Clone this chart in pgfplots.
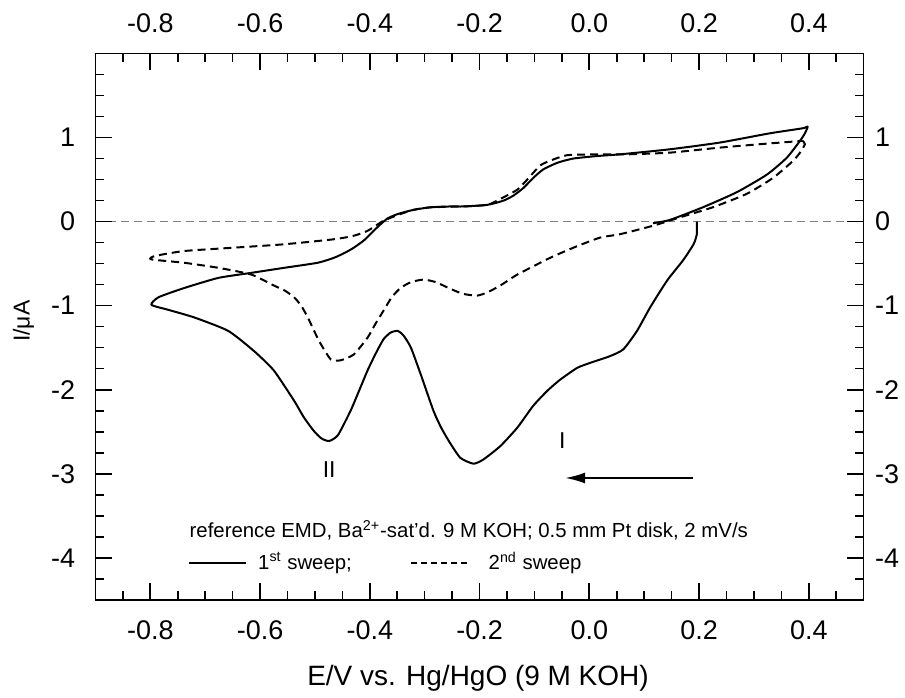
\documentclass[border=0pt]{standalone}
\usepackage{fontspec}
\setmainfont{Liberation Sans}
\usepackage{pgfplots}
\pgfplotsset{compat=1.18}
\usetikzlibrary{arrows.meta}
\pgfplotsset{
  cvbase/.style={
    scale only axis, width=384.5pt, height=273.5pt,
    xmin=-0.9, xmax=0.5, ymin=-4.5, ymax=2,
    xtick={-0.8,-0.6,-0.4,-0.2,0,0.2,0.4},
    ytick={-4,-3,-2,-1,0,1},
    minor xtick={-0.85,-0.75,-0.7,-0.65,-0.55,-0.5,-0.45,-0.35,-0.3,-0.25,-0.15,-0.1,-0.05,0.05,0.1,0.15,0.25,0.3,0.35,0.45},
    minor ytick={-4.25,-3.75,-3.5,-3.25,-2.75,-2.5,-2.25,-1.75,-1.5,-1.25,-0.75,-0.5,-0.25,0.25,0.5,0.75,1.25,1.5,1.75},
    major tick length=8.5pt, minor tick length=4.5pt,
    tick style={black, line width=0.8pt},
    axis line style={line width=0.8pt},
    tick align=inside,
    /pgf/number format/assume math mode=true,
    ticklabel style={font=\fontsize{13.5}{16}\selectfont},
    x tick label style={/pgf/number format/fixed, /pgf/number format/fixed zerofill, /pgf/number format/precision=1},
    y tick label style={/pgf/number format/fixed, /pgf/number format/precision=0},
  }
}
\begin{document}
\begin{tikzpicture}
\begin{axis}[cvbase,
  x tick label style={inner ysep=3pt, yshift=-7pt},
  y tick label style={inner xsep=3pt, xshift=-7pt},
  xlabel={E/V vs. Hg/HgO (9 M KOH)},
  ylabel={I/μA},
  xlabel style={font=\fontsize{14}{16}\selectfont, at={(axis description cs:0.498,-0.1426)}, anchor=center},
  ylabel style={font=\fontsize{11.5}{13}\selectfont, at={(axis description cs:-0.0936,0.51)}, anchor=center, inner ysep=6.5pt},
]
% zero line
\addplot[gray, line width=0.5pt, dash pattern=on 4pt off 2.5pt] coordinates {(-0.9,0) (0.5,0)};
% 1st sweep
\addplot[black, line width=1pt, smooth, tension=0.35, line join=round] coordinates {
(0.196,0) (0.196,-0.15) (0.19,-0.27) (0.171,-0.46) (0.142,-0.70) (0.111,-1.02) (0.087,-1.30)
(0.062,-1.52) (0.038,-1.60) (0.002,-1.68) (-0.022,-1.74) (-0.053,-1.88) (-0.076,-2.01)
(-0.102,-2.19) (-0.131,-2.45) (-0.162,-2.67) (-0.193,-2.83) (-0.211,-2.88) (-0.235,-2.81)
(-0.255,-2.62) (-0.27,-2.45) (-0.284,-2.25) (-0.307,-1.82) (-0.325,-1.50) (-0.338,-1.36)
(-0.349,-1.30) (-0.362,-1.32) (-0.375,-1.40) (-0.39,-1.58) (-0.404,-1.77) (-0.42,-2.02)
(-0.435,-2.25) (-0.458,-2.54) (-0.474,-2.61) (-0.488,-2.58) (-0.502,-2.49) (-0.52,-2.33)
(-0.538,-2.13) (-0.575,-1.77) (-0.611,-1.54) (-0.658,-1.30) (-0.72,-1.14) (-0.767,-1.05)
(-0.798,-0.99) (-0.785,-0.90) (-0.738,-0.79) (-0.676,-0.67) (-0.616,-0.61) (-0.556,-0.55)
(-0.495,-0.49) (-0.465,-0.43) (-0.445,-0.37) (-0.429,-0.31) (-0.41,-0.22) (-0.393,-0.11)
(-0.38,-0.03) (-0.367,0.04) (-0.349,0.09) (-0.32,0.14) (-0.289,0.17) (-0.253,0.18)
(-0.229,0.18) (-0.185,0.2) (-0.156,0.25) (-0.138,0.31) (-0.12,0.40) (-0.102,0.52)
(-0.084,0.62) (-0.058,0.70) (-0.029,0.75) (0.015,0.78) (0.056,0.80) (0.147,0.86)
(0.238,0.94) (0.329,1.05) (0.389,1.11) (0.398,1.13) (0.393,1.05) (0.384,0.96) (0.36,0.76)
(0.324,0.56) (0.269,0.35) (0.207,0.17) (0.147,0.02) (0.116,-0.02)
};
% 2nd sweep
\addplot[black, line width=1pt, smooth, tension=0.35, dash pattern=on 4pt off 2.5pt] coordinates {
(0.389,0.96) (0.393,0.92) (0.384,0.82) (0.371,0.72) (0.335,0.52) (0.287,0.33) (0.225,0.17)
(0.165,0.05) (0.116,-0.05) (0.056,-0.15) (0.02,-0.19) (-0.025,-0.30) (-0.071,-0.43)
(-0.131,-0.63) (-0.162,-0.76) (-0.185,-0.84) (-0.204,-0.88) (-0.23,-0.86) (-0.253,-0.80)
(-0.28,-0.72) (-0.302,-0.69) (-0.325,-0.72) (-0.344,-0.79) (-0.36,-0.90) (-0.375,-1.06)
(-0.39,-1.22) (-0.404,-1.38) (-0.429,-1.58) (-0.453,-1.65) (-0.471,-1.64) (-0.489,-1.46)
(-0.50,-1.32) (-0.513,-1.14) (-0.525,-1.00) (-0.538,-0.90) (-0.555,-0.82) (-0.575,-0.76)
(-0.616,-0.63) (-0.676,-0.55) (-0.738,-0.49) (-0.798,-0.45) (-0.792,-0.41) (-0.738,-0.35)
(-0.647,-0.31) (-0.556,-0.27) (-0.465,-0.21) (-0.43,-0.17) (-0.404,-0.11) (-0.375,0.01)
(-0.344,0.09) (-0.32,0.14) (-0.289,0.17) (-0.229,0.18) (-0.185,0.2) (-0.156,0.29)
(-0.131,0.38) (-0.113,0.50) (-0.089,0.67) (-0.065,0.74) (-0.04,0.79) (0.015,0.80)
(0.069,0.80) (0.147,0.82) (0.238,0.88) (0.329,0.93) (0.389,0.96)
};
% annotations
\node[font=\fontsize{11.5}{13}\selectfont] at (axis cs:-0.474,-2.95) {II};
\node[font=\fontsize{11.5}{13}\selectfont] at (axis cs:-0.049,-2.61) {I};
\draw[black, line width=1pt, -{Latex[length=10pt,width=5.5pt]}] (axis cs:0.189,-3.05) -- (axis cs:-0.044,-3.05);
\node[anchor=west, font=\fontsize{10.2}{12}\selectfont, inner sep=0pt] at (axis cs:-0.729,-3.67)
  {reference EMD, Ba\textsuperscript{2+}-sat'd. 9 M KOH; 0.5 mm Pt disk, 2 mV/s};
\draw[black, line width=0.8pt] (axis cs:-0.729,-4.06) -- (axis cs:-0.625,-4.06);
\node[anchor=west, font=\fontsize{10.2}{12}\selectfont, inner sep=0pt] at (axis cs:-0.604,-4.06)
  {1\textsuperscript{st} sweep;};
\draw[black, line width=0.8pt, dash pattern=on 3pt off 2pt] (axis cs:-0.325,-4.06) -- (axis cs:-0.216,-4.06);
\node[anchor=west, font=\fontsize{10.2}{12}\selectfont, inner sep=0pt] at (axis cs:-0.184,-4.06)
  {2\textsuperscript{nd} sweep};
\end{axis}
\begin{axis}[cvbase,
  xticklabel pos=right, yticklabel pos=right,
  x tick label style={inner ysep=7pt, yshift=3pt},
  y tick label style={inner xsep=3pt, xshift=2.5pt},
]
\end{axis}
\end{tikzpicture}
\end{document}
